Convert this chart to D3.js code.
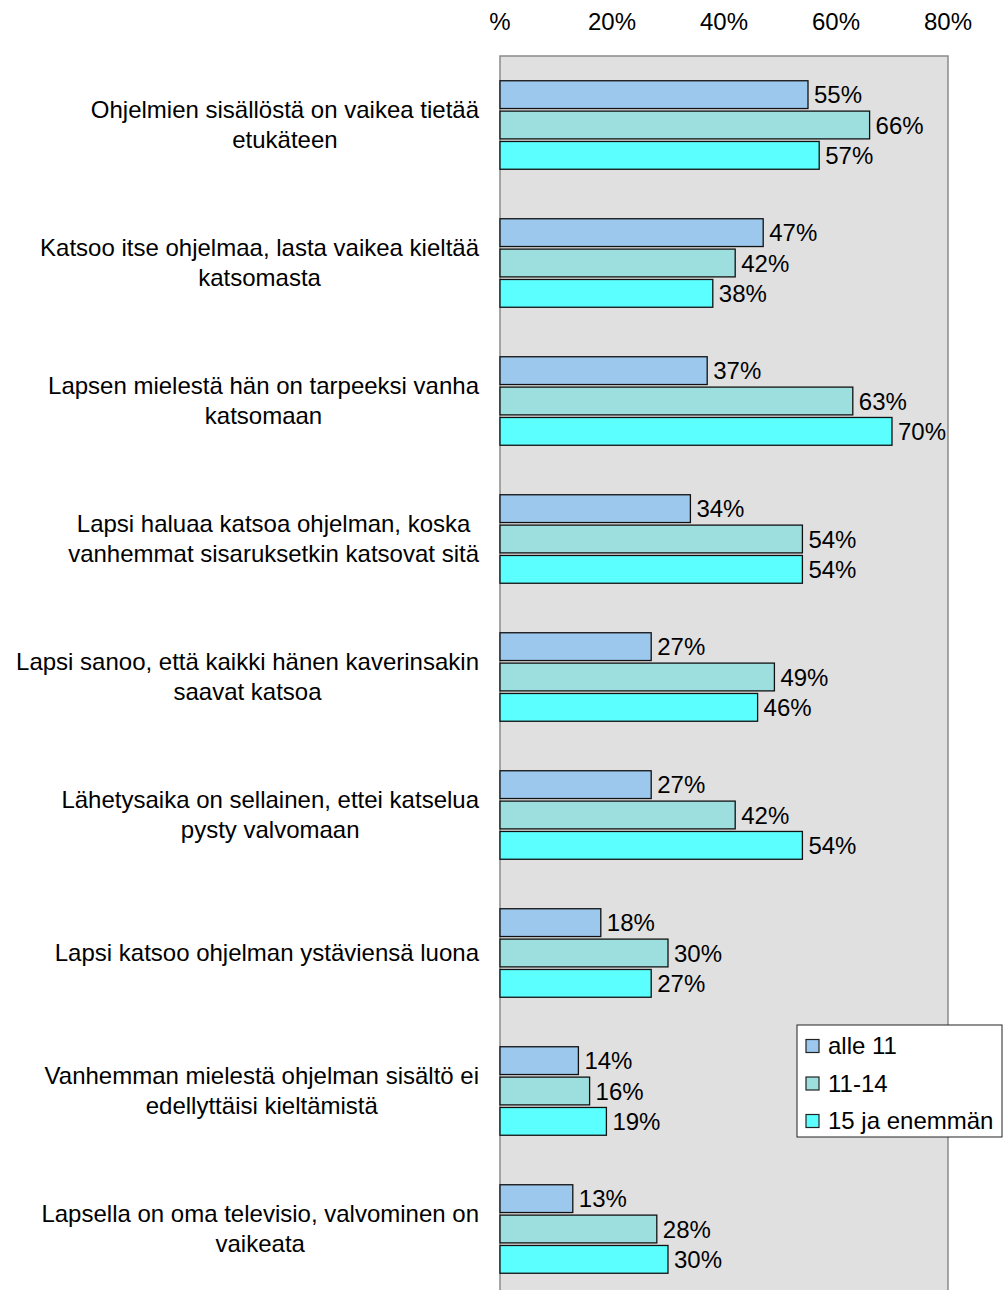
<!DOCTYPE html>
<html><head><meta charset="utf-8">
<script src="https://cdn.jsdelivr.net/npm/d3@7"></script>
<style>body{margin:0;background:#fff}svg{display:block}</style>
</head><body>
<script>
const categories = [
  ["Ohjelmien sisällöstä on vaikea tietää", "etukäteen"],
  ["Katsoo itse ohjelmaa, lasta vaikea kieltää", "katsomasta"],
  ["Lapsen mielestä hän on tarpeeksi vanha", "katsomaan"],
  ["Lapsi haluaa katsoa ohjelman, koska", "vanhemmat sisaruksetkin katsovat sitä"],
  ["Lapsi sanoo, että kaikki hänen kaverinsakin", "saavat katsoa"],
  ["Lähetysaika on sellainen, ettei katselua", "pysty valvomaan"],
  ["Lapsi katsoo ohjelman ystäviensä luona"],
  ["Vanhemman mielestä ohjelman sisältö ei", "edellyttäisi kieltämistä"],
  ["Lapsella on oma televisio, valvominen on", "vaikeata"]
];
const seriesNames = ["alle 11", "11-14", "15 ja enemmän"];
const alle11 = [55, 47, 37, 34, 27, 27, 18, 14, 13];
const v11_14 = [66, 42, 63, 54, 49, 42, 30, 16, 28];
const v15plus = [57, 38, 70, 54, 46, 54, 27, 19, 30];
const tickValues = [0, 20, 40, 60, 80];
const tickLabels = ["%", "20%", "40%", "60%", "80%"];
const colors = ["#9dc8ee", "#9ddfdf", "#5cffff"];

const W = 1003, H = 1290;
const font = "'Liberation Sans', Arial, sans-serif";
const fs = 24;
const svg = d3.select("body").append("svg").attr("width", W).attr("height", H)
  .style("font-family", font);

const plot = {left: 500, right: 948, top: 56};
const x = d3.scaleLinear().domain([0, 80]).range([plot.left, plot.right]);
const y = d3.scaleBand().domain(d3.range(categories.length))
  .range([plot.top, plot.top + 138 * categories.length]).paddingInner(0).paddingOuter(0);
const inner = d3.scaleBand().domain([0, 1, 2]).range([0, 88.5]).paddingInner(0.085);
const innerOffset = (138 - 88.5) / 2;

// plot background
svg.append("rect").attr("x", plot.left).attr("y", plot.top)
  .attr("width", plot.right - plot.left).attr("height", H - plot.top + 20)
  .attr("fill", "#e0e0e0").attr("stroke", "#8a8a8a").attr("stroke-width", 1.5);

// top axis labels
svg.append("g").selectAll("text").data(tickValues).join("text")
  .attr("x", d => x(d)).attr("y", 22).attr("dy", "0.35em")
  .attr("text-anchor", "middle").attr("font-size", fs).attr("fill", "#000")
  .text((d, i) => tickLabels[i]);

const series = [alle11, v11_14, v15plus];
series.forEach((vals, si) => {
  const g = svg.append("g");
  g.selectAll("rect").data(vals).join("rect")
    .attr("x", x(0))
    .attr("y", (d, i) => y(i) + innerOffset + inner(si))
    .attr("width", d => x(d) - x(0))
    .attr("height", inner.bandwidth())
    .attr("fill", colors[si]).attr("stroke", "#111").attr("stroke-width", 1.3);
  g.selectAll("text").data(vals).join("text")
    .attr("x", d => x(d) + 6)
    .attr("y", (d, i) => y(i) + innerOffset + inner(si) + inner.bandwidth() / 2)
    .attr("dy", "0.36em").attr("font-size", fs).attr("fill", "#000")
    .text(d => d + "%");
});

// category labels
const labelRight = 479;
categories.forEach((lines, i) => {
  const g = svg.append("g");
  const texts = lines.map(l => g.append("text").attr("font-size", fs).attr("fill", "#000").text(l));
  const maxW = d3.max(texts, t => t.node().getComputedTextLength());
  const cx = labelRight - maxW / 2;
  const lh = 30;
  const cy = y(i) + y.bandwidth() / 2;
  texts.forEach((t, k) => {
    t.attr("x", cx).attr("text-anchor", "middle")
      .attr("y", cy + (k - (lines.length - 1) / 2) * lh).attr("dy", "0.35em");
  });
});

// legend
const lg = svg.append("g");
lg.append("rect").attr("x", 797).attr("y", 1025).attr("width", 205).attr("height", 112)
  .attr("fill", "#fff").attr("stroke", "#222").attr("stroke-width", 1);
seriesNames.forEach((n, i) => {
  const cy = 1046 + i * 37.5;
  lg.append("rect").attr("x", 806).attr("y", cy - 6.5).attr("width", 13).attr("height", 13)
    .attr("fill", colors[i]).attr("stroke", "#222").attr("stroke-width", 1.2);
  lg.append("text").attr("x", 828).attr("y", cy).attr("dy", "0.35em")
    .attr("font-size", fs).attr("fill", "#000").text(n);
});
</script>
</body></html>
